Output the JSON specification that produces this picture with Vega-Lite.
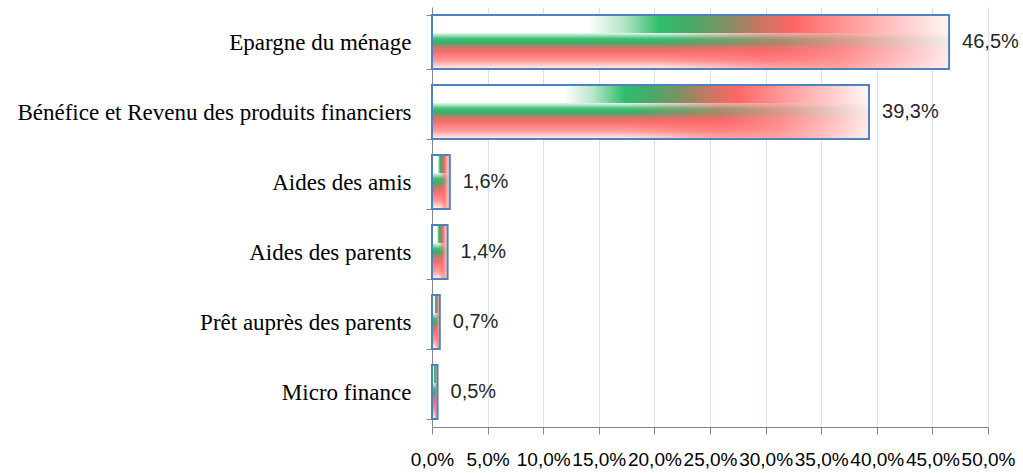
{
  "$schema": "https://vega.github.io/schema/vega-lite/v6.json",
  "width": 556,
  "height": 420,
  "autosize": {"type": "none"},
  "padding": {"left": 432, "top": 7, "right": 35, "bottom": 46},
  "background": "#ffffff",
  "config": {
    "view": {"stroke": null},
    "locale": {"number": {"decimal": ",", "thousands": " ", "grouping": [3], "currency": ["", " €"], "percent": "%"}}
  },
  "data": {
    "values": [
      {"source": "Epargne du ménage", "share": 0.465},
      {"source": "Bénéfice et Revenu des produits financiers", "share": 0.393},
      {"source": "Aides des amis", "share": 0.016},
      {"source": "Aides des parents", "share": 0.014},
      {"source": "Prêt auprès des parents", "share": 0.007},
      {"source": "Micro finance", "share": 0.005}
    ]
  },
  "encoding": {
    "y": {
      "field": "source",
      "type": "nominal",
      "sort": null,
      "scale": {"paddingInner": 0.23, "paddingOuter": 0.115},
      "axis": {
        "title": null,
        "domainColor": "#868686",
        "tickColor": "#868686",
        "tickBand": "extent",
        "tickSize": 6,
        "labelFont": "Liberation Serif",
        "labelFontSize": 23,
        "labelColor": "#000000",
        "labelPadding": 15,
        "labelLimit": 0
      }
    },
    "x": {
      "field": "share",
      "type": "quantitative",
      "scale": {"domain": [0, 0.5], "nice": false},
      "axis": {
        "title": null,
        "values": [0, 0.05, 0.1, 0.15, 0.2, 0.25, 0.3, 0.35, 0.4, 0.45, 0.5],
        "format": ".1%",
        "grid": true,
        "gridColor": "#d9e2f0",
        "domainColor": "#868686",
        "tickColor": "#868686",
        "tickSize": 7,
        "labelFont": "Liberation Sans",
        "labelFontSize": 19,
        "labelColor": "#000000",
        "labelPadding": 16,
        "labelFlush": false,
        "labelOverlap": false
      }
    }
  },
  "layer": [
    {
      "mark": {
        "type": "bar",
        "strokeWidth": 0,
        "fill": {
          "gradient": "linear", "x1": 0, "y1": 0, "x2": 0, "y2": 1,
          "stops": [
            {"offset": 0, "color": "#ffffff"},
            {"offset": 0.32, "color": "#ffffff"},
            {"offset": 0.44, "color": "#3cbf74"},
            {"offset": 0.51, "color": "#3aae68"},
            {"offset": 0.6, "color": "#c27a6a"},
            {"offset": 0.68, "color": "#ff6a6a"},
            {"offset": 0.85, "color": "#ff9a9a"},
            {"offset": 1, "color": "#fff4f4"}
          ]
        }
      }
    },
    {
      "mark": {
        "type": "bar",
        "strokeWidth": 0,
        "fill": {
          "gradient": "linear", "x1": 0, "y1": 0, "x2": 1, "y2": 0,
          "stops": [
            {"offset": 0, "color": "rgba(255,100,100,0)"},
            {"offset": 0.45, "color": "rgba(255,100,100,0)"},
            {"offset": 0.65, "color": "rgba(255,105,105,0.5)"},
            {"offset": 0.8, "color": "rgba(255,150,150,0.8)"},
            {"offset": 1, "color": "rgba(255,240,240,0.95)"}
          ]
        }
      }
    },
    {
      "mark": {
        "type": "bar",
        "height": 18,
        "yOffset": -18,
        "strokeWidth": 0,
        "fill": {
          "gradient": "linear", "x1": 0, "y1": 0, "x2": 1, "y2": 0,
          "stops": [
            {"offset": 0, "color": "#ffffff"},
            {"offset": 0.3, "color": "#ffffff"},
            {"offset": 0.37, "color": "#b6e6c8"},
            {"offset": 0.44, "color": "#2fbd6c"},
            {"offset": 0.5, "color": "#47aa68"},
            {"offset": 0.57, "color": "#7f9062"},
            {"offset": 0.63, "color": "#c47864"},
            {"offset": 0.7, "color": "#ff6666"},
            {"offset": 0.78, "color": "#ff8e8e"},
            {"offset": 0.88, "color": "#ffbcbc"},
            {"offset": 1, "color": "#fff6f6"}
          ]
        }
      }
    },
    {
      "mark": {"type": "bar", "fill": "transparent", "stroke": "#4f81bd", "strokeWidth": 2}
    },
    {
      "mark": {"type": "text", "align": "left", "baseline": "middle", "dx": 13, "font": "Liberation Sans", "fontSize": 20, "color": "#262626"},
      "encoding": {"text": {"field": "share", "type": "quantitative", "format": ".1%"}}
    }
  ]
}
